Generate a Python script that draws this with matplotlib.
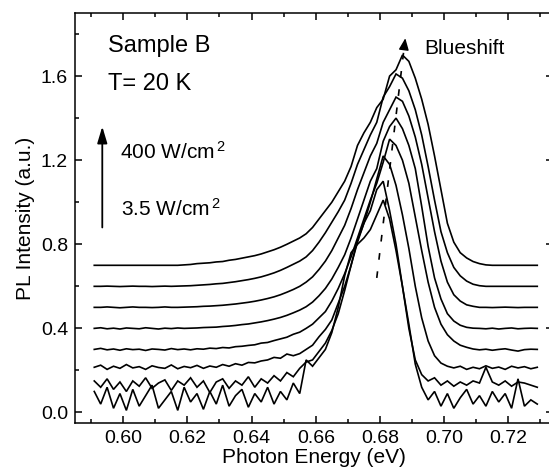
import numpy as np
import matplotlib
matplotlib.use("Agg")
import matplotlib.pyplot as plt
from matplotlib.ticker import MultipleLocator, FormatStrFormatter

plt.rcParams['font.family'] = ['Liberation Sans', 'DejaVu Sans']
plt.rcParams['mathtext.default'] = 'regular'

# Photon energy grid (eV)
energy = [0.591, 0.593, 0.595, 0.597, 0.599, 0.601, 0.603, 0.605, 0.607, 0.609,
          0.611, 0.613, 0.615, 0.617, 0.619, 0.621, 0.623, 0.625, 0.627, 0.629,
          0.631, 0.633, 0.635, 0.637, 0.639, 0.641, 0.643, 0.645, 0.647, 0.649,
          0.651, 0.653, 0.655, 0.657, 0.659, 0.661, 0.663, 0.665, 0.667, 0.669,
          0.671, 0.673, 0.675, 0.677, 0.679, 0.681, 0.683, 0.685, 0.687, 0.689,
          0.691, 0.693, 0.695, 0.697, 0.699, 0.701, 0.703, 0.705, 0.707, 0.709,
          0.711, 0.713, 0.715, 0.717, 0.719, 0.721, 0.723, 0.725, 0.727, 0.729]

# PL spectra (offset), from highest (400 W/cm2) to lowest (3.5 W/cm2) excitation
pl_400 = [0.700, 0.700, 0.700, 0.700, 0.700, 0.700, 0.700, 0.700, 0.700, 0.700,
          0.700, 0.700, 0.700, 0.700, 0.702, 0.704, 0.708, 0.710, 0.712, 0.716,
          0.718, 0.724, 0.728, 0.734, 0.740, 0.746, 0.754, 0.764, 0.774, 0.786,
          0.800, 0.815, 0.830, 0.850, 0.880, 0.920, 0.960, 1.000, 1.050, 1.100,
          1.170, 1.270, 1.330, 1.380, 1.450, 1.490, 1.600, 1.630, 1.700, 1.670,
          1.590, 1.490, 1.370, 1.220, 1.060, 0.900, 0.810, 0.760, 0.735, 0.718,
          0.708, 0.702, 0.700, 0.700, 0.700, 0.700, 0.700, 0.700, 0.700, 0.700]
pl_2 = [0.600, 0.600, 0.601, 0.600, 0.599, 0.600, 0.601, 0.600, 0.600, 0.599,
        0.600, 0.601, 0.600, 0.601, 0.602, 0.603, 0.605, 0.607, 0.609, 0.612,
        0.614, 0.618, 0.622, 0.627, 0.632, 0.638, 0.645, 0.654, 0.664, 0.676,
        0.690, 0.705, 0.720, 0.740, 0.770, 0.810, 0.855, 0.905, 0.955, 1.010,
        1.090, 1.180, 1.250, 1.320, 1.380, 1.500, 1.550, 1.610, 1.590, 1.530,
        1.440, 1.320, 1.170, 1.010, 0.860, 0.760, 0.690, 0.650, 0.625, 0.610,
        0.603, 0.600, 0.600, 0.600, 0.600, 0.600, 0.600, 0.600, 0.600, 0.600]
pl_3 = [0.500, 0.500, 0.502, 0.500, 0.498, 0.500, 0.502, 0.500, 0.500, 0.499,
        0.500, 0.502, 0.500, 0.500, 0.501, 0.502, 0.503, 0.505, 0.506, 0.508,
        0.510, 0.513, 0.516, 0.520, 0.524, 0.529, 0.535, 0.542, 0.550, 0.560,
        0.572, 0.585, 0.600, 0.620, 0.645, 0.680, 0.720, 0.770, 0.830, 0.890,
        0.970, 1.060, 1.140, 1.220, 1.280, 1.380, 1.440, 1.500, 1.480, 1.410,
        1.310, 1.180, 1.020, 0.860, 0.720, 0.620, 0.560, 0.530, 0.512, 0.505,
        0.500, 0.500, 0.499, 0.500, 0.501, 0.500, 0.499, 0.500, 0.500, 0.500]
pl_4 = [0.400, 0.403, 0.398, 0.401, 0.397, 0.402, 0.400, 0.398, 0.403, 0.400,
        0.397, 0.401, 0.399, 0.402, 0.400, 0.401, 0.402, 0.404, 0.405, 0.406,
        0.409, 0.411, 0.414, 0.418, 0.421, 0.426, 0.431, 0.437, 0.444, 0.452,
        0.462, 0.474, 0.487, 0.503, 0.525, 0.555, 0.590, 0.635, 0.690, 0.750,
        0.830, 0.920, 1.010, 1.100, 1.160, 1.290, 1.360, 1.400, 1.350, 1.270,
        1.160, 0.980, 0.790, 0.640, 0.540, 0.470, 0.435, 0.415, 0.405, 0.401,
        0.400, 0.398, 0.401, 0.397, 0.400, 0.402, 0.398, 0.400, 0.401, 0.400]
pl_5 = [0.300, 0.305, 0.298, 0.302, 0.296, 0.303, 0.299, 0.301, 0.295, 0.302,
        0.300, 0.297, 0.304, 0.299, 0.302, 0.298, 0.303, 0.301, 0.306, 0.304,
        0.309, 0.307, 0.313, 0.315, 0.319, 0.322, 0.330, 0.333, 0.342, 0.350,
        0.358, 0.372, 0.382, 0.400, 0.420, 0.450, 0.480, 0.530, 0.590, 0.660,
        0.740, 0.830, 0.920, 1.010, 1.090, 1.190, 1.300, 1.270, 1.200, 1.090,
        0.930, 0.770, 0.620, 0.500, 0.420, 0.370, 0.340, 0.320, 0.310, 0.302,
        0.298, 0.301, 0.296, 0.300, 0.303, 0.297, 0.292, 0.299, 0.301, 0.300]
pl_6 = [0.215, 0.225, 0.205, 0.220, 0.210, 0.228, 0.212, 0.218, 0.205, 0.222,
        0.214, 0.210, 0.226, 0.208, 0.219, 0.213, 0.224, 0.210, 0.221, 0.215,
        0.228, 0.220, 0.232, 0.225, 0.238, 0.236, 0.245, 0.250, 0.262, 0.258,
        0.278, 0.270, 0.280, 0.300, 0.320, 0.360, 0.395, 0.440, 0.520, 0.600,
        0.700, 0.810, 0.900, 1.000, 1.110, 1.220, 1.180, 1.080, 0.940, 0.780,
        0.600, 0.450, 0.340, 0.270, 0.235, 0.220, 0.212, 0.220, 0.205, 0.215,
        0.208, 0.222, 0.210, 0.216, 0.205, 0.220, 0.212, 0.218, 0.208, 0.215]
pl_7 = [0.150, 0.120, 0.160, 0.110, 0.145, 0.100, 0.150, 0.125, 0.165, 0.115,
        0.140, 0.155, 0.105, 0.150, 0.130, 0.165, 0.120, 0.150, 0.095, 0.145,
        0.160, 0.115, 0.150, 0.130, 0.170, 0.120, 0.160, 0.140, 0.175, 0.150,
        0.190, 0.170, 0.210, 0.240, 0.250, 0.290, 0.330, 0.390, 0.470, 0.580,
        0.700, 0.820, 0.900, 0.960, 1.060, 1.100, 0.960, 0.800, 0.600, 0.400,
        0.250, 0.180, 0.150, 0.165, 0.130, 0.150, 0.125, 0.145, 0.130, 0.150,
        0.140, 0.215, 0.145, 0.130, 0.150, 0.125, 0.145, 0.140, 0.130, 0.120]
pl_3p5 = [0.100, 0.040, 0.120, 0.020, 0.090, 0.010, 0.110, 0.030, 0.080, 0.130,
          0.020, 0.060, 0.100, 0.010, 0.120, 0.050, 0.090, 0.015, 0.100, 0.040,
          0.130, 0.030, 0.080, 0.110, 0.025, 0.090, 0.050, 0.120, 0.040, 0.100,
          0.060, 0.140, 0.090, 0.250, 0.220, 0.260, 0.300, 0.380, 0.500, 0.650,
          0.760, 0.800, 0.830, 0.870, 0.940, 1.010, 0.920, 0.770, 0.600, 0.420,
          0.230, 0.120, 0.060, 0.100, 0.030, 0.090, 0.020, 0.070, 0.110, 0.040,
          0.080, 0.030, 0.100, 0.050, 0.090, 0.020, 0.160, 0.030, 0.060, 0.040]

spectra = [pl_400, pl_2, pl_3, pl_4, pl_5, pl_6, pl_7, pl_3p5]

# Peak-position (blueshift) guide line
shift_e = [0.6790, 0.6876]
shift_i = [0.64, 1.745]

fig = plt.figure(figsize=(5.49, 4.72), dpi=100)
ax = fig.add_axes([75 / 549, 49 / 472, (553 - 75) / 549, (423 - 13) / 472])

for s in spectra:
    ax.plot(energy, s, color='black', lw=1.2, solid_joinstyle='miter')

ax.plot(shift_e, shift_i, color='black', lw=1.2, linestyle=(0, (4, 7)))
ax.annotate('', xy=(0.6879, 1.78), xytext=(0.6876, 1.745),
            arrowprops=dict(arrowstyle='-|>,head_length=0.7,head_width=0.3',
                            color='black', lw=1, shrinkA=0, shrinkB=0))

ax.set_xlim(0.585, 0.7339)
ax.set_ylim(-0.05, 1.9)
ax.xaxis.set_major_locator(MultipleLocator(0.02))
ax.xaxis.set_minor_locator(MultipleLocator(0.01))
ax.yaxis.set_major_locator(MultipleLocator(0.4))
ax.yaxis.set_minor_locator(MultipleLocator(0.2))
ax.xaxis.set_major_formatter(FormatStrFormatter('%.2f'))
ax.yaxis.set_major_formatter(FormatStrFormatter('%.1f'))
ax.tick_params(which='both', direction='in', top=True, right=True,
               labelsize=14, width=1.1, pad=5)
ax.tick_params(which='major', length=5)
ax.tick_params(which='minor', length=3)
for sp in ax.spines.values():
    sp.set_linewidth(1.1)

ax.set_xlabel('Photon Energy (eV)', fontsize=15, labelpad=1)
ax.set_ylabel('PL Intensity (a.u.)', fontsize=15, labelpad=4)

ax.text(0.5952, 1.743, 'Sample B', fontsize=17, va='center', ha='left')
ax.text(0.5952, 1.562, 'T= 20 K', fontsize=17, va='center', ha='left')
ax.text(0.5989, 1.24, '400 W/cm$^{\\,2}$', fontsize=15, va='center', ha='left')
ax.text(0.5992, 0.97, '3.5 W/cm$^{\\,2}$', fontsize=15, va='center', ha='left')
ax.text(0.6937, 1.733, 'Blueshift', fontsize=15, va='center', ha='left')
ax.annotate('', xy=(0.5935, 1.36), xytext=(0.5935, 0.88),
            arrowprops=dict(arrowstyle='-|>,head_length=1.0,head_width=0.3',
                            color='black', lw=1.3, shrinkA=0, shrinkB=0))

fig.savefig('out.png', dpi=100)
